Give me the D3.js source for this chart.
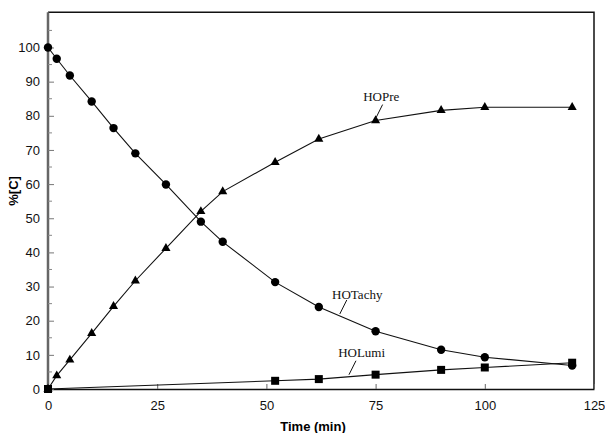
<!DOCTYPE html>
<html>
<head>
<meta charset="utf-8">
<script src="https://cdn.jsdelivr.net/npm/d3@7"></script>
<style>
  body { margin: 0; background: #fff; }
  svg { display: block; }
</style>
</head>
<body>
<svg id="chart" width="605" height="433"></svg>
<script>
const timeTachy = [0, 2, 5, 10, 15, 20, 27, 35, 40, 52, 62, 75, 90, 100, 120];
const valTachy  = [100, 96.7, 91.8, 84.2, 76.4, 69.0, 59.9, 49.0, 43.1, 31.3, 24.0, 16.9, 11.5, 9.3, 6.9];

const timePre = [0, 2, 5, 10, 15, 20, 27, 35, 40, 52, 62, 75, 90, 100, 120];
const valPre  = [0, 3.9, 8.5, 16.3, 24.2, 31.7, 41.2, 52.0, 57.8, 66.4, 73.2, 78.6, 81.6, 82.5, 82.5];

const timeLumi = [0, 52, 62, 75, 90, 100, 120];
const valLumi  = [0, 2.4, 2.9, 4.2, 5.6, 6.3, 7.7];

const xTicks = [0, 25, 50, 75, 100, 125];
const yTicks = [0, 10, 20, 30, 40, 50, 60, 70, 80, 90, 100];
const yMinor = [5, 15, 25, 35, 45, 55, 65, 75, 85, 95, 105];

// label text, time where the leader meets the curve, label centre in data units
const labels = [
  { text: "HOPre",   series: "pre",   t: 75,   lx: 76.3, ly: 84.3 },
  { text: "HOTachy", series: "tachy", t: 66.8, lx: 70.8, ly: 26.4 },
  { text: "HOLumi",  series: "lumi",  t: 68.9, lx: 71.8, ly: 9.4 }
];

const svg = d3.select("#chart");
const x = d3.scaleLinear().domain([0, 125]).range([48, 594]);
const y = d3.scaleLinear().domain([0, 100]).range([389, 47.5]);
const yTop = y(110.3);

const series = {
  tachy: timeTachy.map((t, i) => ({ t: t, v: valTachy[i] })),
  pre:   timePre.map((t, i) => ({ t: t, v: valPre[i] })),
  lumi:  timeLumi.map((t, i) => ({ t: t, v: valLumi[i] }))
};

// frame: top and right
svg.append("path")
  .attr("d", "M" + x(0) + "," + yTop + "H" + x(125) + "V" + y(0))
  .attr("fill", "none").attr("stroke", "#111").attr("stroke-width", 1.5);

// x axis, ticks pointing inward
const xAxis = svg.append("g").attr("transform", "translate(0," + y(0) + ")")
  .call(d3.axisBottom(x).tickValues(xTicks).tickSize(-5).tickPadding(12).tickSizeOuter(0));
xAxis.select(".domain").attr("stroke", "#111").attr("stroke-width", 1.5);
xAxis.selectAll(".tick line").attr("stroke", "#666");
xAxis.selectAll("text").attr("font-family", "Liberation Sans, Arial, sans-serif").attr("font-size", 13).attr("fill", "#111");

// y axis, ticks pointing inward
const yAxis = svg.append("g").attr("transform", "translate(" + x(0) + ",0)")
  .call(d3.axisLeft(y).tickValues(yTicks).tickSize(-6).tickPadding(8).tickSizeOuter(0));
yAxis.select(".domain").attr("d", "M0," + y(0) + "V" + yTop).attr("stroke", "#666").attr("stroke-width", 2.5);
yAxis.selectAll(".tick line").attr("stroke", "#777");
yAxis.selectAll("text").attr("font-family", "Liberation Sans, Arial, sans-serif").attr("font-size", 13).attr("fill", "#111");

svg.append("g").selectAll("line").data(yMinor).join("line")
  .attr("x1", x(0)).attr("x2", x(0) + 4)
  .attr("y1", d => y(d)).attr("y2", d => y(d))
  .attr("stroke", "#888");

// axis titles
svg.append("text").attr("x", (x(0) + x(125)) / 2 - 8).attr("y", 431)
  .attr("text-anchor", "middle").attr("font-family", "Liberation Sans, Arial, sans-serif")
  .attr("font-size", 13).attr("font-weight", "bold").text("Time (min)");
svg.append("text").attr("transform", "translate(18," + y(58) + ") rotate(-90)")
  .attr("text-anchor", "middle").attr("font-family", "Liberation Sans, Arial, sans-serif")
  .attr("font-size", 13).attr("font-weight", "bold").text("%[C]");

// lines
const line = d3.line().x(d => x(d.t)).y(d => y(d.v));
Object.keys(series).forEach(k => {
  svg.append("path").datum(series[k]).attr("d", line)
    .attr("fill", "none").attr("stroke", "#111").attr("stroke-width", 1.1);
});

// markers
svg.append("g").selectAll("circle").data(series.tachy).join("circle")
  .attr("cx", d => x(d.t)).attr("cy", d => y(d.v)).attr("r", 4.2).attr("fill", "#000");

svg.append("g").selectAll("path").data(series.pre).join("path")
  .attr("transform", d => "translate(" + x(d.t) + "," + y(d.v) + ")")
  .attr("d", d3.symbol().type(d3.symbolTriangle).size(36)).attr("fill", "#000");

svg.append("g").selectAll("path").data(series.lumi).join("path")
  .attr("transform", d => "translate(" + x(d.t) + "," + y(d.v) + ")")
  .attr("d", d3.symbol().type(d3.symbolSquare).size(64)).attr("fill", "#000");

// curve labels with short leader lines
function valueAt(arr, t) {
  for (let i = 1; i < arr.length; i++) {
    if (t <= arr[i].t) {
      const a = arr[i - 1], b = arr[i];
      return a.v + (b.v - a.v) * (t - a.t) / (b.t - a.t);
    }
  }
  return arr[arr.length - 1].v;
}
labels.forEach(l => {
  const px = x(l.t), py = y(valueAt(series[l.series], l.t)) - 2;
  svg.append("line").attr("x1", px).attr("y1", py).attr("x2", px + 7).attr("y2", py - 14)
    .attr("stroke", "#111").attr("stroke-width", 1);
  svg.append("text").attr("x", x(l.lx)).attr("y", y(l.ly))
    .attr("text-anchor", "middle").attr("font-family", "Liberation Serif, Times New Roman, serif")
    .attr("font-size", 13).attr("fill", "#111").text(l.text);
});
</script>
</body>
</html>
